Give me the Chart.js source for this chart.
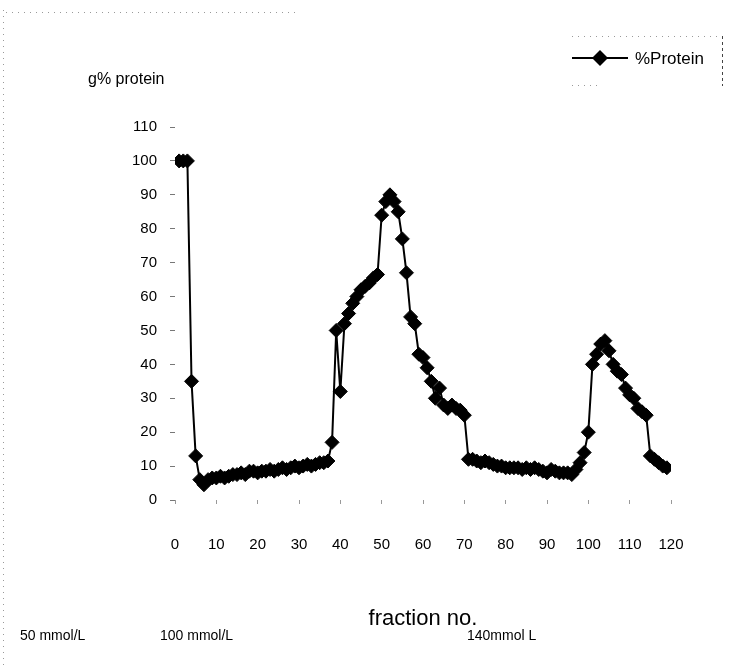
<!DOCTYPE html>
<html>
<head>
<meta charset="utf-8">
<script src="https://cdn.jsdelivr.net/npm/chart.js@4.4.0/dist/chart.umd.min.js"></script>
<style>
  html, body { margin: 0; padding: 0; background: #fff; }
</style>
</head>
<body>
<canvas id="chartProtein" width="729" height="669"></canvas>
<script>
// fraction numbers from the column
const fractions = [
    1, 2, 3, 4, 5, 6, 7, 8, 9, 10,
    11, 12, 13, 14, 15, 16, 17, 18, 19, 20,
    21, 22, 23, 24, 25, 26, 27, 28, 29, 30,
    31, 32, 33, 34, 35, 36, 37, 38, 39, 40,
    41, 42, 43, 44, 45, 46, 47, 48, 49, 50,
    51, 52, 53, 54, 55, 56, 57, 58, 59, 60,
    61, 62, 63, 64, 65, 66, 67, 68, 69, 70,
    71, 72, 73, 74, 75, 76, 77, 78, 79, 80,
    81, 82, 83, 84, 85, 86, 87, 88, 89, 90,
    91, 92, 93, 94, 95, 96, 97, 98, 99, 100,
    101, 102, 103, 104, 105, 106, 107, 108, 109, 110,
    111, 112, 113, 114, 115, 116, 117, 118, 119
];

// g% protein per fraction
const protein = [
    100, 100, 100, 35, 13, 6, 4.5, 6, 6.5, 6.5,
    7, 6.5, 7, 7.5, 7.5, 8, 7.5, 8.5, 8.5, 8,
    8.5, 8.5, 9, 8.5, 9, 9.5, 9, 9.5, 10, 9.5,
    10, 10.5, 10, 10.5, 11, 11, 11.5, 17, 50, 32,
    52, 55, 58, 60, 62, 63, 64, 65.5, 66.5, 84,
    88, 90, 88, 85, 77, 67, 54, 52, 43, 42,
    39, 35, 30, 33, 28, 27, 28, 27, 26.5, 25,
    12, 12, 11.5, 11, 11.5, 11, 10.5, 10, 10, 9.5,
    9.5, 9.5, 9.5, 9, 9.5, 9, 9.5, 9, 8.5, 8,
    9, 8.5, 8, 8, 8, 7.5, 9, 11, 14, 20,
    40, 43, 46, 47, 44, 40, 38, 37, 33, 31,
    30, 27, 26, 25, 13, 12, 11, 10, 9.5
];

const xTicks = [0, 10, 20, 30, 40, 50, 60, 70, 80, 90, 100, 110, 120];
const yTicks = [0, 10, 20, 30, 40, 50, 60, 70, 80, 90, 100, 110];

// salt steps written under the axis
const saltLabels = ["50 mmol/L", "100 mmol/L", "140mmol L"];
const saltX = [20, 160, 467];

const FONT = '"Liberation Sans", Arial, sans-serif';

// extra text: y caption, legend box, salt steps, frame dots
const pageText = {
    id: "pageText",
    afterDraw(chart) {
        const ctx = chart.ctx;
        ctx.save();

        // dotted frame left over from the printed page
        ctx.strokeStyle = "#999";
        ctx.lineWidth = 1;
        ctx.setLineDash([1, 5]);
        ctx.beginPath();
        ctx.moveTo(3.5, 10);
        ctx.lineTo(3.5, 665);
        ctx.moveTo(6, 12.5);
        ctx.lineTo(295, 12.5);
        ctx.stroke();

        // legend frame
        ctx.beginPath();
        ctx.moveTo(572, 36.5);
        ctx.lineTo(718, 36.5);
        ctx.moveTo(572, 85.5);
        ctx.lineTo(602, 85.5);
        ctx.stroke();
        ctx.setLineDash([3, 3]);
        ctx.strokeStyle = "#444";
        ctx.beginPath();
        ctx.moveTo(722.5, 36);
        ctx.lineTo(722.5, 86);
        ctx.stroke();
        ctx.setLineDash([]);

        // legend entry
        const ds = chart.data.datasets[0];
        ctx.strokeStyle = "#000";
        ctx.lineWidth = 2;
        ctx.beginPath();
        ctx.moveTo(572, 58);
        ctx.lineTo(628, 58);
        ctx.stroke();
        ctx.fillStyle = "#000";
        ctx.beginPath();
        ctx.moveTo(592, 58);
        ctx.lineTo(600, 50);
        ctx.lineTo(608, 58);
        ctx.lineTo(600, 66);
        ctx.closePath();
        ctx.fill();
        ctx.textBaseline = "middle";
        ctx.textAlign = "left";
        ctx.font = "17px " + FONT;
        ctx.fillText(ds.label, 635, 59);

        // y caption
        ctx.font = "16px " + FONT;
        ctx.fillText("g% protein", 88, 80);

        // salt concentration steps
        ctx.font = "14px " + FONT;
        saltLabels.forEach((t, i) => ctx.fillText(t, saltX[i], 636));

        ctx.restore();
    }
};

new Chart(document.getElementById("chartProtein"), {
    type: "line",
    data: {
        datasets: [{
            label: "%Protein",
            data: fractions.map((f, i) => ({ x: f, y: protein[i] })),
            borderColor: "#000",
            borderWidth: 2,
            tension: 0,
            pointStyle: "rectRot",
            pointRadius: 7,
            pointBackgroundColor: "#000",
            pointBorderColor: "#000",
            pointBorderWidth: 1
        }]
    },
    options: {
        responsive: false,
        animation: false,
        layout: {
            padding: { top: 127, right: 58, bottom: 0, left: 0 }
        },
        plugins: {
            legend: { display: false },
            tooltip: { enabled: false }
        },
        scales: {
            x: {
                type: "linear",
                min: 0,
                max: 120,
                afterBuildTicks: scale => {
                    scale.ticks = xTicks.map(v => ({ value: v }));
                },
                afterFit: scale => {
                    scale.height = 169;
                },
                border: { display: false },
                grid: {
                    drawOnChartArea: false,
                    tickLength: 4,
                    color: "#999"
                },
                ticks: {
                    color: "#000",
                    padding: 32,
                    maxRotation: 0,
                    font: { family: FONT, size: 15 }
                },
                title: {
                    display: true,
                    text: "fraction no.",
                    color: "#000",
                    align: "center",
                    padding: { top: 0, bottom: 37 },
                    font: { family: FONT, size: 22 }
                }
            },
            y: {
                min: 0,
                max: 110,
                afterBuildTicks: scale => {
                    scale.ticks = yTicks.map(v => ({ value: v }));
                },
                afterFit: scale => {
                    scale.width = 175;
                },
                border: { display: false },
                grid: {
                    drawOnChartArea: false,
                    tickLength: 5,
                    color: "#777"
                },
                ticks: {
                    color: "#000",
                    padding: 13,
                    font: { family: FONT, size: 15 }
                }
            }
        }
    },
    plugins: [pageText]
});
</script>
</body>
</html>
